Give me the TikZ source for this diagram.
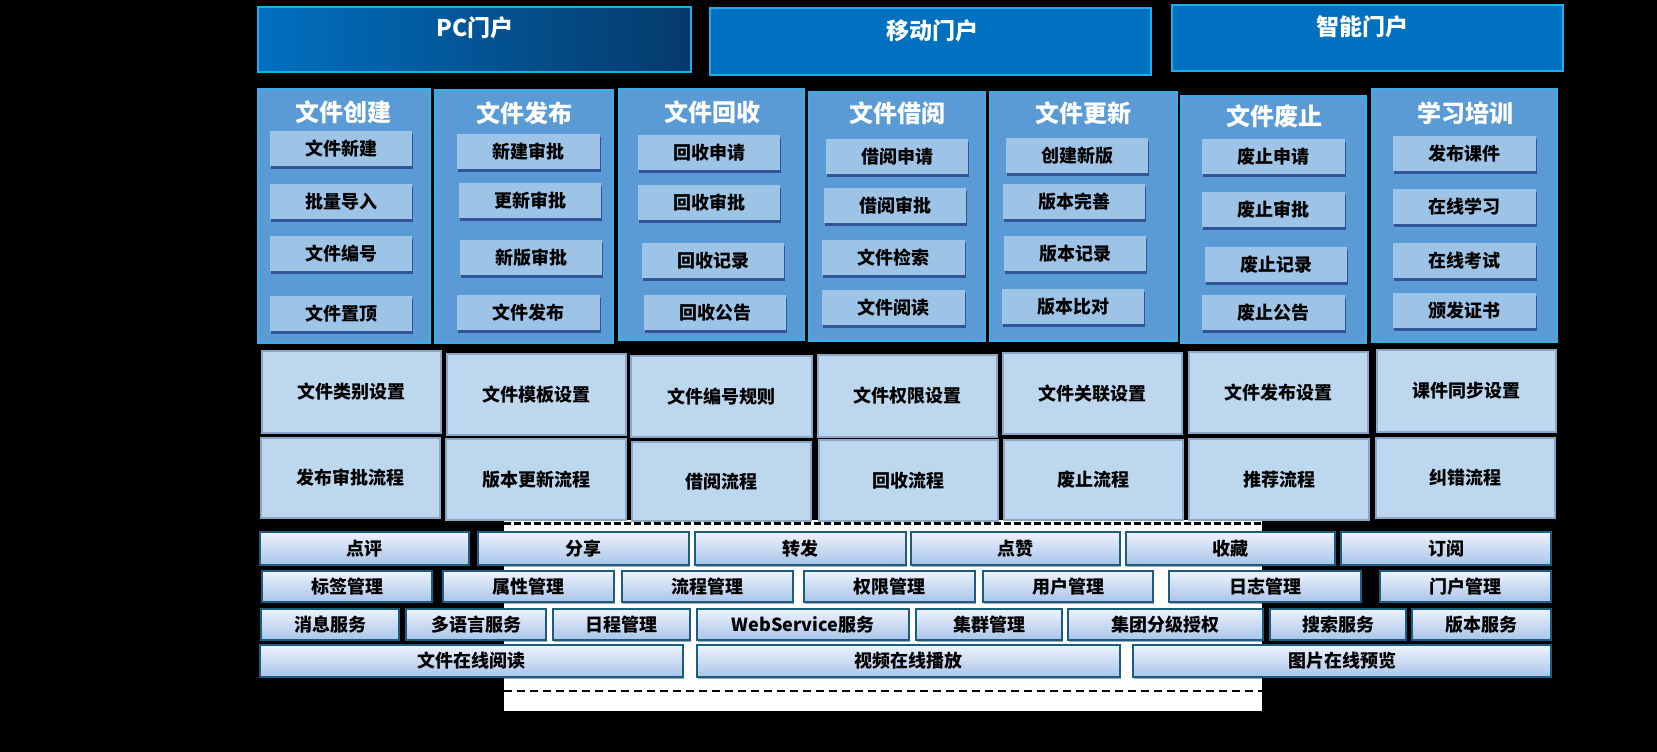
\documentclass[tikz,border=0pt]{standalone}
\usepackage{fontspec}
\setmainfont{Noto Sans CJK SC}
\usetikzlibrary{shadows}
\definecolor{portal}{HTML}{0070C0}
\definecolor{portaldark}{HTML}{053A6A}
\definecolor{cyanb}{HTML}{1AB0EA}
\definecolor{colfill}{HTML}{5B9BD5}
\definecolor{coldraw}{HTML}{3AAEE6}
\definecolor{itemfill}{HTML}{9DC3E6}
\definecolor{setfill}{HTML}{BDD7EE}
\definecolor{setdraw}{HTML}{8CA6C6}
\definecolor{btntop}{HTML}{EEF3FB}
\definecolor{btnbot}{HTML}{A8C4EA}
\definecolor{btndraw}{HTML}{1C5C7E}
\newcommand\mkbox[7]{\node[#1, minimum width={#4-#2}, minimum height={#5-#3}, inner sep=0pt] (#6) at ({(#2+#4)/2},{(#3+#5)/2}) {#7};}
\tikzset{
  portalbox/.style={draw=cyanb, line width=2pt, fill=portal},
  porttext/.style={text=white, font=\bfseries\fontsize{23}{25}\selectfont, inner sep=0pt},
  colbox/.style={draw=coldraw, line width=1.5pt, fill=colfill},
  coltitle/.style={text=white, font=\bfseries\fontsize{24}{26}\selectfont, inner sep=0pt},
  itembox/.style={fill=itemfill, text=black, font=\bfseries\fontsize{18}{20}\selectfont,
    drop shadow={shadow xshift=1pt, shadow yshift=-3pt, opacity=0.45, fill=black!70!blue}},
  setbox/.style={fill=setfill, draw=setdraw, line width=1.8pt, text=black, font=\bfseries\fontsize{18}{20}\selectfont},
  btn/.style={top color=btntop, bottom color=btnbot, draw=btndraw, line width=1.8pt, text=black,
    font=\bfseries\fontsize{18}{20}\selectfont,
    drop shadow={shadow xshift=1pt, shadow yshift=-2pt, opacity=0.35, fill=black}}
}
\begin{document}
\begin{tikzpicture}[x=1pt,y=-1pt]
\useasboundingbox (0,0) rectangle (1657,752);
\fill[black] (0,0) rectangle (1657,752);
% white zone with dashed lines
\fill[white] (504,520) rectangle (1262,711);
\coordinate (dA1) at (504,523.5);
\coordinate (dA2) at (1262,523.5);
\coordinate (dB1) at (504,691);
\coordinate (dB2) at (1262,691);
\draw[black, line width=3pt, dash pattern=on 7pt off 3pt] (dA1) -- (dA2);
\draw[black, line width=2pt, dash pattern=on 8pt off 5pt] (dB1) -- (dB2);

% portals
\mkbox{portalbox, left color=portal, right color=portaldark, shading=axis, draw=cyanb}{258}{7}{691}{72}{p1}{}
\mkbox{portalbox}{710}{8}{1151}{75}{p2}{}
\mkbox{portalbox}{1172}{5}{1563}{71}{p3}{}
\node[porttext] (p1t) at (475,28) {PC门户};
\node[porttext] (p2t) at (932,31) {移动门户};
\node[porttext] (p3t) at (1362,27) {智能门户};

% module columns
\mkbox{colbox}{258}{89}{430}{343}{c1}{}
\mkbox{colbox}{435}{90}{613}{343}{c2}{}
\mkbox{colbox}{619}{89}{804}{340}{c3}{}
\mkbox{colbox}{809}{92}{985}{341}{c4}{}
\mkbox{colbox}{990}{92}{1177}{341}{c5}{}
\mkbox{colbox}{1181}{96}{1366}{343}{c6}{}
\mkbox{colbox}{1372}{89}{1557}{342}{c7}{}
\node[coltitle] (c1t) at (343,112) {文件创建};
\node[coltitle] (c2t) at (524,113) {文件发布};
\node[coltitle] (c3t) at (712,112) {文件回收};
\node[coltitle] (c4t) at (897,113) {文件借阅};
\node[coltitle] (c5t) at (1083,113) {文件更新};
\node[coltitle] (c6t) at (1274,116) {文件废止};
\node[coltitle] (c7t) at (1465,113) {学习培训};

\mkbox{itembox}{270}{131}{412}{166}{c1a}{文件新建}
\mkbox{itembox}{270}{184}{412}{219}{c1b}{批量导入}
\mkbox{itembox}{270}{236}{412}{271}{c1c}{文件编号}
\mkbox{itembox}{270}{296}{412}{331}{c1d}{文件置顶}

\mkbox{itembox}{457}{134}{600}{169}{c2a}{新建审批}
\mkbox{itembox}{459}{183}{601}{218}{c2b}{更新审批}
\mkbox{itembox}{460}{240}{602}{275}{c2c}{新版审批}
\mkbox{itembox}{457}{295}{600}{330}{c2d}{文件发布}

\mkbox{itembox}{638}{135}{780}{170}{c3a}{回收申请}
\mkbox{itembox}{638}{185}{780}{220}{c3b}{回收审批}
\mkbox{itembox}{642}{243}{784}{278}{c3c}{回收记录}
\mkbox{itembox}{644}{295}{786}{330}{c3d}{回收公告}

\mkbox{itembox}{826}{139}{968}{174}{c4a}{借阅申请}
\mkbox{itembox}{824}{188}{966}{223}{c4b}{借阅审批}
\mkbox{itembox}{822}{240}{965}{275}{c4c}{文件检索}
\mkbox{itembox}{822}{290}{965}{325}{c4d}{文件阅读}

\mkbox{itembox}{1006}{138}{1148}{173}{c5a}{创建新版}
\mkbox{itembox}{1003}{184}{1145}{219}{c5b}{版本完善}
\mkbox{itembox}{1004}{236}{1146}{271}{c5c}{版本记录}
\mkbox{itembox}{1002}{289}{1144}{324}{c5d}{版本比对}

\mkbox{itembox}{1202}{139}{1345}{174}{c6a}{废止申请}
\mkbox{itembox}{1202}{192}{1345}{227}{c6b}{废止审批}
\mkbox{itembox}{1205}{247}{1347}{282}{c6c}{废止记录}
\mkbox{itembox}{1202}{295}{1345}{330}{c6d}{废止公告}

\mkbox{itembox}{1393}{136}{1536}{171}{c7a}{发布课件}
\mkbox{itembox}{1393}{189}{1536}{224}{c7b}{在线学习}
\mkbox{itembox}{1393}{243}{1536}{278}{c7c}{在线考试}
\mkbox{itembox}{1393}{293}{1536}{328}{c7d}{颁发证书}

% settings row
\mkbox{setbox}{262}{351}{441}{433}{s1}{文件类别设置}
\mkbox{setbox}{447}{354}{626}{435}{s2}{文件模板设置}
\mkbox{setbox}{631}{356}{812}{437}{s3}{文件编号规则}
\mkbox{setbox}{818}{355}{997}{437}{s4}{文件权限设置}
\mkbox{setbox}{1003}{353}{1182}{434}{s5}{文件关联设置}
\mkbox{setbox}{1189}{352}{1368}{433}{s6}{文件发布设置}
\mkbox{setbox}{1377}{350}{1556}{432}{s7}{课件同步设置}

% process row
\mkbox{setbox}{261}{438}{440}{518}{f1}{发布审批流程}
\mkbox{setbox}{446}{439}{626}{520}{f2}{版本更新流程}
\mkbox{setbox}{632}{442}{811}{521}{f3}{借阅流程}
\mkbox{setbox}{819}{440}{998}{521}{f4}{回收流程}
\mkbox{setbox}{1004}{440}{1183}{520}{f5}{废止流程}
\mkbox{setbox}{1189}{439}{1369}{520}{f6}{推荐流程}
\mkbox{setbox}{1376}{438}{1555}{518}{f7}{纠错流程}

% button row 1
\mkbox{btn}{260}{532}{469}{565}{b1a}{点评}
\mkbox{btn}{478}{532}{689}{565}{b1b}{分享}
\mkbox{btn}{695}{532}{906}{565}{b1c}{转发}
\mkbox{btn}{911}{532}{1120}{565}{b1d}{点赞}
\mkbox{btn}{1126}{532}{1335}{565}{b1e}{收藏}
\mkbox{btn}{1341}{532}{1551}{565}{b1f}{订阅}
% row 2
\mkbox{btn}{262}{571}{432}{602}{b2a}{标签管理}
\mkbox{btn}{443}{571}{614}{602}{b2b}{属性管理}
\mkbox{btn}{622}{571}{793}{602}{b2c}{流程管理}
\mkbox{btn}{804}{571}{975}{602}{b2d}{权限管理}
\mkbox{btn}{983}{571}{1153}{602}{b2e}{用户管理}
\mkbox{btn}{1169}{571}{1361}{602}{b2f}{日志管理}
\mkbox{btn}{1380}{571}{1551}{602}{b2g}{门户管理}
% row 3
\mkbox{btn}{261}{609}{399}{640}{b3a}{消息服务}
\mkbox{btn}{406}{609}{546}{640}{b3b}{多语言服务}
\mkbox{btn}{553}{609}{690}{640}{b3c}{日程管理}
\mkbox{btn}{697}{609}{909}{640}{b3d}{WebService服务}
\mkbox{btn}{916}{609}{1062}{640}{b3e}{集群管理}
\mkbox{btn}{1068}{609}{1263}{640}{b3f}{集团分级授权}
\mkbox{btn}{1270}{609}{1406}{640}{b3g}{搜索服务}
\mkbox{btn}{1412}{609}{1551}{640}{b3h}{版本服务}
% row 4
\mkbox{btn}{260}{645}{683}{677}{b4a}{文件在线阅读}
\mkbox{btn}{697}{645}{1120}{677}{b4b}{视频在线播放}
\mkbox{btn}{1133}{645}{1551}{677}{b4c}{图片在线预览}
\end{tikzpicture}
\end{document}
